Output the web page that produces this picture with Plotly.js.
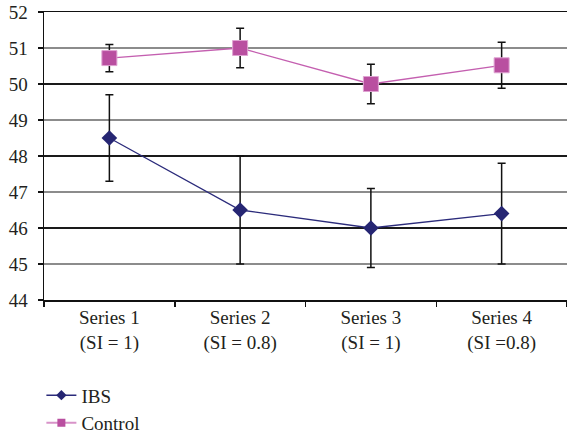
<!DOCTYPE html>
<html>
<head>
<meta charset="utf-8">
<script src="https://cdn.plot.ly/plotly-3.0.1.min.js"></script>
<style>html,body{margin:0;padding:0;background:#fff;}#chart{width:567px;height:435px;}</style>
</head>
<body>
<div id="chart"></div>
<script>
var categories = ["Series 1<br>(SI = 1)", "Series 2<br>(SI = 0.8)", "Series 3<br>(SI = 1)", "Series 4<br>(SI =0.8)"];
var ibsValues = [48.5, 46.5, 46.0, 46.4];
var ibsErrors = [1.2, 1.5, 1.1, 1.4];
var controlValues = [50.72, 51.0, 50.0, 50.52];
var controlErrors = [0.38, 0.55, 0.55, 0.64];
var yTicks = [44, 45, 46, 47, 48, 49, 50, 51, 52];
var seriesNames = ["IBS", "Control"];

var font = "Liberation Serif";

var traces = [
  {
    x: categories, y: ibsValues, name: seriesNames[0], type: "scatter", mode: "lines+markers",
    line: {color: "#2b2b7b", width: 1.3},
    marker: {symbol: "diamond", size: 12, color: "#262673"},
    error_y: {type: "data", array: ibsErrors, visible: true, color: "#111", thickness: 1.5, width: 4},
    showlegend: false
  },
  {
    x: categories, y: controlValues, name: seriesNames[1], type: "scatter", mode: "lines+markers",
    line: {color: "#c45fb0", width: 1.3},
    marker: {symbol: "square", size: 15, color: "#b94fa0", line: {color: "#dfa3d2", width: 1}},
    error_y: {type: "data", array: controlErrors, visible: true, color: "#111", thickness: 1.5, width: 4},
    showlegend: false,
    yaxis: "y2"
  },
  // legend-only entries (smaller symbols, as in the reference legend)
  {
    x: [null], y: [null], name: seriesNames[0], type: "scatter", mode: "lines+markers",
    line: {color: "#2b2b7b", width: 1.5}, marker: {symbol: "diamond", size: 8, color: "#262673"},
    legendgroup: "a"
  },
  {
    x: [null], y: [null], name: seriesNames[1], type: "scatter", mode: "lines+markers",
    line: {color: "#d893c9", width: 2}, marker: {symbol: "square", size: 8, color: "#b94fa0"},
    legendgroup: "b"
  }
];

var layout = {
  width: 567, height: 435,
  margin: {l: 44, r: 0, t: 12, b: 135},
  paper_bgcolor: "#fff", plot_bgcolor: "#fff",
  font: {family: font, size: 19, color: "#231f20"},
  showlegend: true,
  legend: {x: -0.005, xanchor: "left", xref: "paper", y: 0.135, yanchor: "top", yref: "container",
           bgcolor: "rgba(0,0,0,0)", tracegroupgap: 0,
           font: {family: font, size: 19, color: "#231f20"}},
  xaxis: {
    type: "category", range: [-0.5, 3.5], showgrid: false, zeroline: false,
    showline: true, mirror: true, linecolor: "#111", linewidth: 1.5,
    ticks: "outside", ticklen: 5, tickcolor: "#111", tickwidth: 1.5, tickson: "boundaries",
    tickfont: {family: font, size: 19, color: "#231f20"}
  },
  yaxis: {
    range: [44, 52], tickvals: yTicks, ticktext: yTicks.map(String), showgrid: true, gridcolor: "#8c8c8c", gridwidth: 1.5,
    zeroline: false, showline: true, linecolor: "#111", linewidth: 1.5,
    ticks: "outside", ticklen: 5, tickcolor: "#111", tickwidth: 1.5, ticklabelstandoff: 6,
    tickfont: {family: font, size: 19, color: "#231f20"}
  },
  yaxis2: {
    range: [44, 52], overlaying: "y", tickvals: yTicks.filter(function(v){return v % 2 === 0;}),
    showticklabels: false, showgrid: true, gridcolor: "#1a1a1a", gridwidth: 1.5, zeroline: false, showline: false, ticks: ""
  }
};

Plotly.newPlot("chart", traces, layout, {displayModeBar: false, staticPlot: true});
</script>
</body>
</html>
